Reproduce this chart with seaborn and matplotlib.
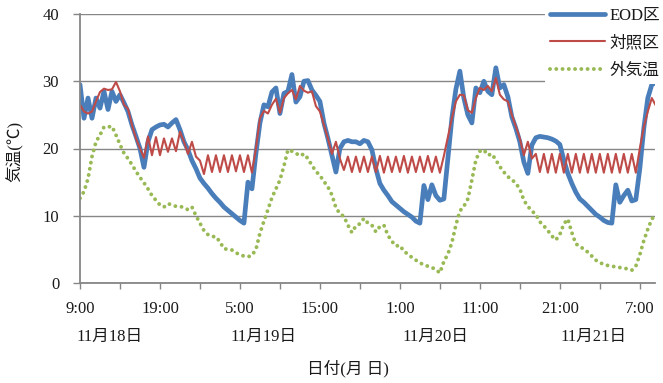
import numpy as np
import pandas as pd
import matplotlib
matplotlib.use("Agg")
import matplotlib.pyplot as plt
import matplotlib.transforms as mtransforms
import seaborn as sns

# ---- data (30-minute readings starting 11/18 9:00) ----
hours = [i * 0.5 for i in range(145)]

eod = [29.5, 24.5, 27.5, 24.5, 27.5, 26.0, 28.5, 25.8, 28.5, 27.0,
       28.0, 26.8, 25.5, 23.5, 21.8, 20.0, 17.2, 21.0, 22.8, 23.2,
       23.5, 23.6, 23.2, 23.8, 24.3, 22.8, 21.0, 19.8, 18.2, 17.0,
       15.6, 14.8, 14.1, 13.3, 12.6, 12.0, 11.3, 10.8, 10.3, 9.8,
       9.3, 8.9, 15.0, 14.0, 19.3, 23.8, 26.5, 26.2, 28.4, 29.0,
       25.2, 28.2, 28.5, 31.0, 26.9, 27.7, 30.0, 30.1, 28.7, 27.9,
       27.0, 23.8, 21.5, 19.0, 16.5, 20.0, 21.0, 21.2, 21.0, 21.0,
       20.7, 21.2, 21.0, 19.8, 17.0, 14.8, 13.8, 13.0, 12.1, 11.6,
       11.1, 10.6, 10.2, 9.8, 9.2, 8.9, 14.5, 12.4, 14.6, 13.0,
       12.3, 12.5, 18.5, 24.5, 28.8, 31.5, 27.5, 25.0, 23.8, 29.0,
       28.3, 30.0, 28.5, 28.0, 32.0, 29.0, 29.5, 27.7, 24.7, 23.0,
       21.0, 18.0, 16.3, 20.5, 21.6, 21.8, 21.7, 21.6, 21.4, 21.1,
       20.6, 18.3, 16.3, 14.8, 13.5, 12.5, 12.0, 11.4, 10.8, 10.2,
       9.8, 9.3, 9.0, 8.9, 14.6, 12.0, 13.0, 13.8, 12.2, 12.4,
       17.0, 23.0, 27.5, 29.5, 29.8]

control = [26.5, 25.5, 25.2, 25.5, 27.0, 28.4, 28.9, 28.7, 28.8, 29.9,
           28.5, 26.5, 25.9, 23.5, 21.5, 20.0, 18.6, 21.8, 19.0, 21.7,
           19.0, 21.5, 19.5, 21.5, 19.6, 22.5, 21.0, 19.2, 21.0, 18.8,
           18.2, 16.2, 19.0, 16.5, 19.0, 16.5, 19.0, 16.5, 19.0, 16.6,
           19.0, 16.5, 19.0, 16.4, 20.0, 24.5, 25.6, 25.2, 26.5, 27.4,
           25.3, 27.5, 28.2, 28.7, 27.3, 29.3, 28.6, 28.3, 28.5, 26.3,
           25.5, 23.5, 21.5, 19.2, 21.0, 18.5, 16.8, 18.8, 16.5, 18.8,
           16.5, 18.8, 16.5, 18.8, 16.5, 18.9, 16.4, 18.8, 16.5, 18.8,
           16.5, 18.9, 16.4, 18.8, 16.5, 18.8, 16.5, 18.9, 16.5, 18.8,
           16.4, 18.9, 21.7, 24.5, 27.0, 28.0, 27.9, 25.7, 25.3, 27.5,
           29.0, 28.7, 29.3, 28.5, 30.5, 28.0, 27.3, 27.0, 25.0, 23.3,
           21.5, 19.0, 21.0, 18.5, 19.2, 16.5, 19.2, 16.4, 19.2, 16.4,
           19.2, 16.4, 19.2, 16.4, 19.2, 16.4, 19.2, 16.4, 19.2, 16.4,
           19.2, 16.4, 19.2, 16.4, 19.2, 16.4, 19.2, 16.4, 19.2, 16.4,
           20.0, 23.2, 25.5, 27.5, 26.4]

outside = [12.6, 13.6, 15.5, 18.8, 21.0, 22.0, 23.2, 23.2, 23.3, 22.0,
           20.6, 19.3, 18.5, 17.6, 16.6, 15.7, 14.9, 14.0, 13.0, 12.3,
           11.6, 11.3, 11.8, 11.6, 11.4, 11.4, 11.2, 10.9, 11.3, 10.0,
           8.9, 7.8, 7.2, 6.9, 6.9, 6.1, 5.1, 5.0, 4.9, 4.5,
           4.2, 4.0, 3.9, 4.1, 5.0, 7.4, 9.2, 10.9, 12.7, 14.0,
           15.3, 17.4, 19.8, 19.6, 19.3, 18.9, 19.2, 18.5, 17.5, 16.6,
           16.0, 15.1, 14.3, 13.1, 11.2, 10.3, 9.9, 8.6, 7.5, 8.5,
           8.8, 9.6, 8.9, 8.6, 7.6, 8.4, 8.6, 7.1, 6.2, 5.5,
           5.6, 4.7, 4.3, 3.8, 3.4, 3.0, 2.7, 2.5, 2.3, 2.0,
           1.5, 3.2, 4.3, 6.0, 8.6, 10.7, 11.4, 12.5, 15.3, 18.3,
           19.6, 19.8, 19.0, 19.2, 18.3, 17.3, 16.5, 15.8, 15.4, 14.8,
           14.0, 12.3, 11.4, 10.7, 10.2, 9.1, 8.5, 7.8, 7.0, 6.4,
           7.2, 8.8, 9.5, 7.5, 5.8, 5.5, 5.0, 4.6, 4.0, 3.4,
           3.0, 2.8, 2.6, 2.5, 2.4, 2.3, 2.2, 2.1, 1.9, 2.5,
           4.2, 6.3, 8.0, 9.5, 10.2]

series_names = ["EOD区", "対照区", "外気温"]
time_tick_labels = ["9:00", "19:00", "5:00", "15:00", "1:00", "11:00", "21:00", "7:00"]
date_labels = ["11月18日", "11月19日", "11月20日", "11月21日"]
y_ticks = [0, 10, 20, 30, 40]

df = pd.DataFrame({"h": hours, series_names[0]: eod,
                   series_names[1]: control, series_names[2]: outside})

# ---- style ----
sns.set_theme(style="white")
FONT = ["Liberation Serif", "Noto Sans CJK JP", "DejaVu Sans"]
plt.rcParams["font.family"] = FONT
plt.rcParams["font.size"] = 11

W, H = 663, 383
fig = plt.figure(figsize=(W / 100, H / 100), dpi=100)
ax = fig.add_axes([80 / W, 1 - 283 / H, 575 / W, 269 / H])

blue, red, green = "#4A7EBB", "#BE4B48", "#98B954"
grey = "#868686"
dotted = (0, (0.01, 1.6))

sns.lineplot(data=df, x="h", y=series_names[0], ax=ax, color=blue, lw=3.4,
             label=series_names[0], errorbar=None, sort=False,
             solid_joinstyle="round", solid_capstyle="round")
sns.lineplot(data=df, x="h", y=series_names[1], ax=ax, color=red, lw=1.5,
             label=series_names[1], errorbar=None, sort=False)
sns.lineplot(data=df, x="h", y=series_names[2], ax=ax, color=green, lw=2.8,
             label=series_names[2], errorbar=None, sort=False,
             linestyle=dotted, dash_capstyle="round")

ax.set_xlim(0, 71.9)
ax.set_ylim(0, 40)
ax.set_yticks(y_ticks)
ax.set_yticklabels([str(v) for v in y_ticks])
xt = np.arange(0, 71, 5)
ax.set_xticks(xt)
lab = []
for i, t in enumerate(xt):
    lab.append(time_tick_labels[i // 2] if i % 2 == 0 else "")
ax.set_xticklabels(lab)

ax.grid(axis="y", color=grey, lw=1.0)
ax.set_axisbelow(True)
for s in ["top", "right"]:
    ax.spines[s].set_visible(False)
for s in ["left", "bottom"]:
    ax.spines[s].set_color(grey)
    ax.spines[s].set_linewidth(1.3)
ax.tick_params(axis="y", direction="out", length=5, width=1, color=grey,
               pad=10, labelsize=12, labelcolor="#1a1a1a", left=True)
ax.tick_params(axis="x", direction="out", length=4, width=1, color=grey,
               pad=9, labelsize=12, labelcolor="#1a1a1a", bottom=True)

ax.set_ylabel("気温(℃)", fontsize=12, color="#1a1a1a")
ax.yaxis.set_label_coords(-0.098, 0.49)
ax.set_xlabel("日付(月 日)", fontsize=12, color="#1a1a1a")
ax.xaxis.label.set_va("center")
ax.xaxis.set_label_coords(0.466, -0.318)

trans = mtransforms.blended_transform_factory(ax.transData, ax.transAxes)
date_x = [3.75, 22.9, 44.4, 64.25]
for dx, dl in zip(date_x, date_labels):
    ax.text(dx, -0.2, dl, transform=trans, ha="center", va="center",
            fontsize=12, color="#1a1a1a")

leg = ax.legend(loc="upper right", bbox_to_anchor=(1.0 + 10 / 575, 1 + 11 / 269),
                frameon=True, facecolor="white", edgecolor="none", framealpha=1,
                fancybox=False, fontsize=12, handlelength=3.3, handletextpad=0.25,
                labelspacing=0.68, borderpad=0.3, borderaxespad=0)
for t in leg.get_texts():
    t.set_color("#1a1a1a")
leg.get_lines()[0].set_linewidth(3.4)

fig.savefig("out.png", dpi=100)
